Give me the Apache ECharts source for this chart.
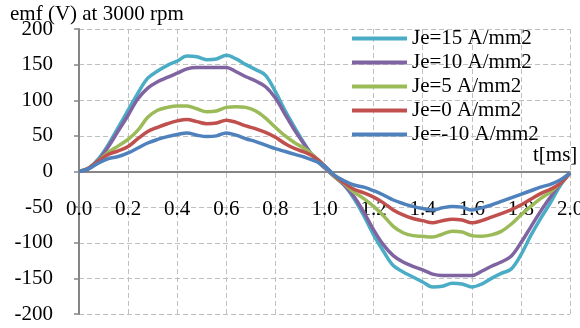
<!DOCTYPE html>
<html>
<head>
<meta charset="utf-8">
<script src="https://cdn.jsdelivr.net/npm/echarts@6/dist/echarts.min.js"></script>
<style>html,body{margin:0;padding:0;background:#fff}#c{width:580px;height:328px}</style>
</head>
<body>
<div id="c"></div>
<script>
var times = [0,0.04,0.08,0.12,0.16,0.20,0.24,0.28,0.32,0.36,0.40,0.44,0.48,0.52,0.56,0.60,0.64,0.68,0.72,0.76,0.80,0.84,0.88,0.92,0.96,1.00,
  1.04,1.08,1.12,1.16,1.20,1.24,1.28,1.32,1.36,1.40,1.44,1.48,1.52,1.56,1.60,1.64,1.68,1.72,1.76,1.80,1.84,1.88,1.92,1.96,2.00];
var seriesNames = ['Je=15 A/mm2','Je=10 A/mm2','Je=5 A/mm2','Je=0 A/mm2','Je=-10 A/mm2'];
var je15 = [0,5,18,38,62,86,110,131,141,149,155,162,161,157,158,163,158,150,143,135,112,85,61,38,18,5,
  -7,-19,-38,-62,-89,-112,-132,-141,-148,-155,-162,-161,-157,-158,-162,-158,-150,-143,-137,-117,-90,-66,-44,-20,-2];
var je10 = [0,4,16,35,57,79,102,117,126,132,138,144,146,146,146,146,140,133,127,119,103,80,57,37,19,6,
  -7,-19,-35,-57,-82,-103,-118,-127,-133,-138,-144,-146,-146,-146,-146,-140,-133,-127,-119,-100,-78,-56,-36,-17,-2];
var je5 = [0,5,15,27,36,45,58,76,86,90,92,92,88,84,85,90,91,90,85,75,62,50,40,32,21,8,
  -7,-17,-29,-38,-49,-62,-77,-86,-90,-91,-92,-88,-84,-85,-90,-91,-89,-84,-74,-61,-49,-38,-29,-17,-2];
var je0 = [0,5,15,24,29,35,46,56,62,67,71,73,70,67,68,72,69,64,60,55,48,39,32,27,20,8,
  -6,-16,-25,-30,-36,-44,-54,-61,-66,-69,-72,-69,-67,-68,-72,-69,-64,-59,-54,-47,-39,-31,-25,-17,-2];
var jem10 = [0,4,12,18,21,26,33,40,45,49,52,54,51,49,50,54,51,46,42,37,32,28,24,20,15,8,
  -5,-13,-19,-22,-27,-33,-40,-45,-49,-52,-54,-51,-49,-50,-54,-51,-47,-42,-37,-32,-27,-22,-18,-12,-2];
var colors = ['#4bacc6','#8064a2','#9bbb59','#c0504d','#4f81bd'];
var yTicks = {min:-200, max:200, step:50};
var xTicks = {min:0, max:2.0, step:0.2};

var FONT = 'Liberation Serif';
function pairs(vals){ return times.map(function(t,i){ return [t, vals[i]]; }); }
var allVals = [je15, je10, je5, je0, jem10];
var series = allVals.map(function(v,i){
  return {name:seriesNames[i], type:'line', data:pairs(v), symbol:'none', smooth:0.35,
    lineStyle:{color:colors[i], width:3.5}, itemStyle:{color:colors[i]}, z: 5};
});
var chart = echarts.init(document.getElementById('c'), null, {renderer:'canvas'});
chart.setOption({
  animation:false,
  backgroundColor:'#ffffff',
  title:{text:'emf (V) at 3000 rpm', left:5, top:-1,
    textStyle:{fontFamily:FONT, fontSize:21, fontWeight:'normal', color:'#000'}},
  grid:{left:79, right:10, top:29, bottom:14, containLabel:false, outerBoundsMode:'none'},
  legend:{orient:'vertical', left:347, top:23, icon:'rect', itemWidth:55, itemHeight:4, itemGap:3, itemTextGap:5,
    data:seriesNames,
    textStyle:{fontFamily:FONT, fontSize:21, color:'#000', lineHeight:21}},
  graphic:[{type:'text', left:533, top:145, style:{text:'t[ms]', font:'21px "Liberation Serif"', fill:'#000'}}],
  xAxis:{type:'value', min:xTicks.min, max:xTicks.max, interval:xTicks.step, z:1,
    axisLine:{onZero:true, lineStyle:{color:'#868686', width:2}},
    axisTick:{show:false},
    axisLabel:{margin:-115, formatter:function(v){return v.toFixed(1);}, fontFamily:FONT, fontSize:21, color:'#000'},
    splitLine:{show:true, lineStyle:{color:'#c0c0c0', type:[5,3], width:1}}},
  yAxis:{type:'value', min:yTicks.min, max:yTicks.max, interval:yTicks.step, z:1,
    axisLine:{show:true, lineStyle:{color:'#868686', width:2}},
    axisTick:{show:true, length:5, lineStyle:{color:'#868686', width:1.5}},
    axisLabel:{margin:26, fontFamily:FONT, fontSize:21, color:'#000'},
    splitLine:{show:true, lineStyle:{color:'#c0c0c0', type:[5,3], width:1}}},
  series:series
});
</script>
</body>
</html>
